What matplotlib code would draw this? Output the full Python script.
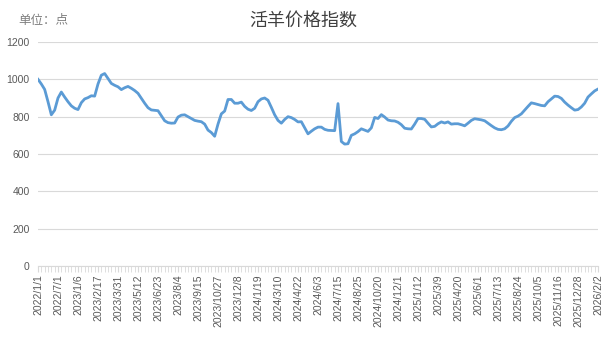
import matplotlib
matplotlib.use("Agg")
import matplotlib.pyplot as plt
from matplotlib.ticker import FixedLocator, MultipleLocator

plt.rcParams['font.family'] = ['Liberation Sans', 'Noto Sans CJK SC', 'DejaVu Sans']

# ===== データ =====
tick_labels = [
    "2022/1/1", "2022/7/1", "2023/1/6", "2023/2/17", "2023/3/31", "2023/5/12",
    "2023/6/23", "2023/8/4", "2023/9/15", "2023/10/27", "2023/12/8", "2024/1/19",
    "2024/3/10", "2024/4/22", "2024/6/3", "2024/7/15", "2024/8/25", "2024/10/20",
    "2024/12/1", "2025/1/12", "2025/3/9", "2025/4/20", "2025/6/1", "2025/7/13",
    "2025/8/24", "2025/10/5", "2025/11/16", "2025/12/28", "2026/2/2",
]
label_step = 6

index_values = [
    1000, 975, 946, 880, 810, 835, 900, 932, 905, 880,
    858, 845, 838, 875, 895, 902, 912, 910, 975, 1022,
    1031, 1005, 978, 968, 960, 945, 955, 962, 952, 940,
    925, 898, 872, 848, 836, 834, 832, 805, 778, 768,
    765, 766, 798, 808, 810, 800, 790, 780, 776, 773,
    760, 728, 715, 695, 760, 815, 830, 892, 892, 872,
    872, 878, 855, 840, 833, 845, 880, 895, 900, 888,
    850, 810, 780, 765, 785, 800, 795, 785, 772, 773,
    740, 708, 722, 735, 744, 744, 732, 727, 726, 725,
    870, 667, 653, 655, 700, 708, 720, 735, 728, 721,
    740, 796, 790, 811, 798, 782, 778, 777, 770, 757,
    738, 735, 734, 760, 790, 790, 786, 765, 745, 748,
    762, 772, 766, 772, 760, 762, 762, 757, 751, 765,
    780, 789, 786, 783, 778, 765, 752, 740, 732, 730,
    735, 750, 775, 795, 803, 815, 835, 855, 874, 870,
    865, 860, 858, 880, 895, 910, 908, 898, 878, 862,
    848, 835, 838, 852, 872, 905, 922, 938, 948,
]

# ===== グラフ =====
fig = plt.figure(figsize=(6.07, 3.41), dpi=100)
ax = fig.add_axes([38 / 607, 1 - 266 / 341, 560 / 607, 224 / 341])

x = list(range(len(index_values)))
ax.plot(x, index_values, color="#5B9BD5", linewidth=2.0, solid_joinstyle="round")

ax.set_xlim(0, len(index_values) - 1)
ax.set_ylim(0, 1200)
ax.yaxis.set_major_locator(MultipleLocator(200))
ax.grid(axis="y", color="#d9d9d9", linewidth=0.8)
ax.set_axisbelow(True)

for s in ["top", "right", "left"]:
    ax.spines[s].set_visible(False)
ax.spines["bottom"].set_color("#d9d9d9")

tick_pos = [i * label_step for i in range(len(tick_labels))]
ax.xaxis.set_major_locator(FixedLocator(tick_pos))
ax.set_xticklabels(tick_labels, rotation=90, fontsize=7.5, color="#595959")
ax.xaxis.set_minor_locator(FixedLocator(x))
ax.tick_params(axis="x", which="both", length=4, color="#d9d9d9", pad=2)
ax.tick_params(axis="y", length=0, labelsize=7.5, labelcolor="#595959", pad=6)

fig.text(0.5, 0.94, "活羊价格指数", ha="center", va="center", fontsize=13,
         family=["Noto Sans CJK SC"], color="#404040")
fig.text(18 / 607, 0.94, "单位：点", ha="left", va="center", fontsize=9,
         family=["Noto Sans CJK SC"], color="#7f7f7f")

fig.savefig("out.png", dpi=100)
